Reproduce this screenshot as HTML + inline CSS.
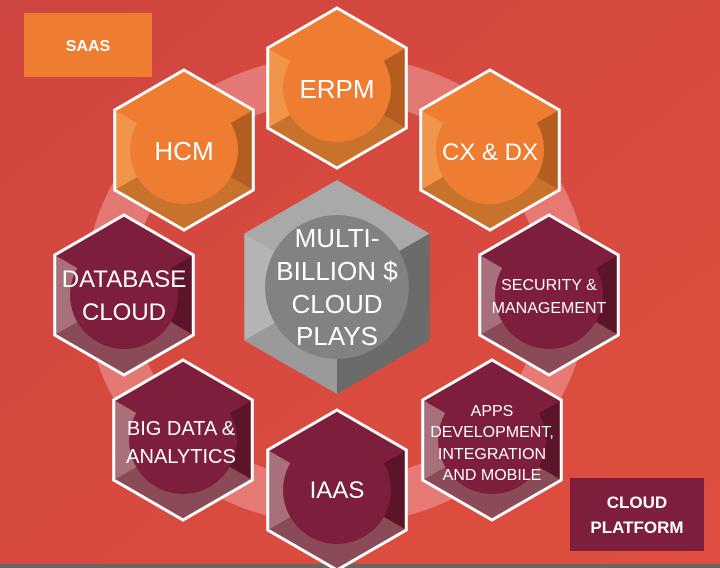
<!DOCTYPE html>
<html><head><meta charset="utf-8"><style>
html,body{margin:0;padding:0;width:720px;height:568px;overflow:hidden;background:#d8473d}
svg{display:block}
text{font-family:"Liberation Sans",sans-serif;fill:#fff;text-anchor:middle}
</style></head><body>
<svg id="s" width="720" height="568" viewBox="0 0 720 568">
<defs>
<linearGradient id="bg" x1="0" y1="0" x2="1" y2="1">
<stop offset="0" stop-color="#cf453f"/><stop offset="1" stop-color="#e04f3f"/>
</linearGradient>
</defs>
<rect width="720" height="568" fill="url(#bg)"/>
<path fill="#f0a0a0" fill-opacity="0.55" fill-rule="evenodd" d="M337,55 a252,235 0 1,0 0.1,0 Z M337,100 a205,190 0 1,0 0.1,0 Z"/>
<rect x="0" y="564" width="720" height="4" fill="#666"/>
<g id="hexes"></g>
<rect x="24" y="13" width="128" height="64" fill="#ef7d31"/>
<text x="88" y="51" font-size="16" font-weight="bold">SAAS</text>
<rect x="570" y="478" width="134" height="73" fill="#7d1e3c"/>
<text x="637" y="508" font-size="17" font-weight="bold">CLOUD</text>
<text x="637" y="533" font-size="17" font-weight="bold">PLATFORM</text>
<g id="labels">
<text x="337" y="98" font-size="26">ERPM</text>
<text x="184" y="160" font-size="26">HCM</text>
<text x="490" y="160" font-size="24">CX &amp; DX</text>
<text x="124" y="287" font-size="24">DATABASE</text>
<text x="124" y="320" font-size="24">CLOUD</text>
<text x="549" y="290" font-size="16">SECURITY &amp;</text>
<text x="549" y="313" font-size="16">MANAGEMENT</text>
<text x="181" y="435" font-size="20">BIG DATA &amp;</text>
<text x="181" y="463" font-size="20">ANALYTICS</text>
<text x="337" y="498" font-size="24">IAAS</text>
<text x="492" y="416" font-size="16">APPS</text>
<text x="492" y="437" font-size="16">DEVELOPMENT,</text>
<text x="492" y="459" font-size="16">INTEGRATION</text>
<text x="492" y="480" font-size="16">AND MOBILE</text>
<text x="337" y="247" font-size="26">MULTI-</text>
<text x="337" y="280" font-size="26">BILLION $</text>
<text x="337" y="313" font-size="26">CLOUD</text>
<text x="337" y="345" font-size="26">PLAYS</text>
</g>
</svg>
<script>
var NS="http://www.w3.org/2000/svg",g=document.getElementById("hexes");
function el(t,a){var e=document.createElementNS(NS,t);for(var k in a)e.setAttribute(k,a[k]);g.appendChild(e);return e;}
function pt(cx,cy,r,i){var a=(-90+60*i)*Math.PI/180;return [cx+r*Math.cos(a),cy+r*Math.sin(a)];}
function hex(cx,cy,r,cr,cols,circ,stroke){
 for(var i=0;i<6;i++){var p=pt(cx,cy,r,i),q=pt(cx,cy,r,i+1);
  el("polygon",{points:cx+","+cy+" "+p.join(",")+" "+q.join(","),fill:cols[i]});}
 var pts=[];for(var i=0;i<6;i++)pts.push(pt(cx,cy,r,i).join(","));
 if(stroke)el("polygon",{points:pts.join(" "),fill:"none",stroke:"#fff","stroke-width":3});
 el("circle",{cx:cx,cy:cy,r:cr,fill:circ});
}
var O=["#ef7d31","#b35e20","#c9722c","#c9722c","#f0954a","#ef7d31"];
var M=["#7d1e3c","#5c1429","#8a4a58","#8a4a58","#a8707a","#7d1e3c"];
hex(337,88,80,54,O,"#ee7d31",1);
hex(184,150,80,54,O,"#ee7d31",1);
hex(490,150,80,54,O,"#ee7d31",1);
hex(124,295,80,54,M,"#7d1e3c",1);
hex(549,295,80,54,M,"#7d1e3c",1);
hex(183,440,80,54,M,"#7d1e3c",1);
hex(337,490,80,54,M,"#7d1e3c",1);
hex(492,440,80,54,M,"#7d1e3c",1);
hex(337,287,107,72,["#a9a9a9","#6b6b6b","#6b6b6b","#9a9a9a","#b4b4b4","#a9a9a9"],"#828282",0);
</script>
</body></html>
